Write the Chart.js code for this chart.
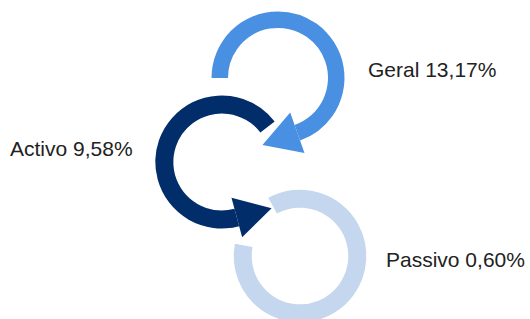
<!DOCTYPE html>
<html><head><meta charset="utf-8">
<script src="https://cdn.jsdelivr.net/npm/chart.js@4"></script>
<style>
html,body{margin:0;padding:0;width:530px;height:319px;overflow:hidden;background:#fff;}
#wrap{position:relative;width:530px;height:319px;overflow:hidden;}
#wrap canvas{position:absolute;}
.lbl{position:absolute;font-family:"Liberation Sans",Arial,Helvetica,sans-serif;font-size:21px;line-height:21px;color:#222;white-space:nowrap;}
</style></head><body><div id="wrap"></div>
<script>
// ---- data ----
const categories = ['Geral', 'Activo', 'Passivo'];
const values = [13.17, 9.58, 0.60];
const colors = ['#4A90E2', '#022D6B', '#C4D7EE'];

// ---- layout of each ring (styling only) ----
const ringCenters = [[278, 78], [221.5, 161.5], [300.3, 256.3]];
const outerRadii = [66.5, 66.5, 66.3];
const innerRadii = [50, 48.5, 48.3];
const rotations = [270, 164.9, 331.4];
const sweeps = [250.6, 247.7, 309.2];
const arrowAt = ['end', 'start', null];
const arrowOverhang = [13.25, 11.5, 0];
const arrowLength = [37, 36, 0];
const labelPos = [[368, 59], [10, 138], [386, 249]];

const arrowPlugin = {
  id: 'arrowHead',
  afterDatasetsDraw(chart, args, opts) {
    if (!opts.at) return;
    const arc = chart.getDatasetMeta(0).data[0];
    const p = arc.getProps(['x', 'y', 'startAngle', 'endAngle', 'innerRadius', 'outerRadius'], true);
    const atEnd = opts.at === 'end';
    const a = atEnd ? p.endAngle : p.startAngle;
    const dir = atEnd ? 1 : -1;
    const mid = (p.innerRadius + p.outerRadius) / 2;
    const half = (p.outerRadius - p.innerRadius) / 2 + opts.overhang;
    const ux = Math.cos(a), uy = Math.sin(a);
    const tx = -Math.sin(a) * dir, ty = Math.cos(a) * dir;
    const bx = p.x + ux * mid, by = p.y + uy * mid;
    const ctx = chart.ctx;
    ctx.save();
    ctx.fillStyle = opts.color;
    ctx.beginPath();
    ctx.moveTo(bx + ux * half, by + uy * half);
    ctx.lineTo(bx - ux * half, by - uy * half);
    ctx.lineTo(bx + tx * opts.length, by + ty * opts.length);
    ctx.closePath();
    ctx.fill();
    ctx.restore();
  }
};

const wrap = document.getElementById('wrap');
const S = 320;
categories.forEach((name, i) => {
  const cv = document.createElement('canvas');
  cv.width = S; cv.height = S;
  cv.style.width = S + 'px'; cv.style.height = S + 'px';
  cv.style.left = (ringCenters[i][0] - S / 2) + 'px';
  cv.style.top = (ringCenters[i][1] - S / 2) + 'px';
  cv.style.zIndex = String(3 - i);
  wrap.appendChild(cv);
  const chart = new Chart(cv, {
    type: 'doughnut',
    data: {
      labels: [name],
      datasets: [{
        data: [values[i]],
        backgroundColor: [colors[i]],
        borderWidth: 0
      }]
    },
    options: {
      responsive: false,
      animation: false,
      events: [],
      radius: outerRadii[i],
      cutout: (innerRadii[i] / outerRadii[i] * 100) + '%',
      rotation: rotations[i],
      circumference: sweeps[i],
      layout: { padding: 0 },
      plugins: {
        legend: { display: false },
        tooltip: { enabled: false },
        arrowHead: { at: arrowAt[i], overhang: arrowOverhang[i], length: arrowLength[i], color: colors[i] }
      }
    },
    plugins: [arrowPlugin]
  });
  // keep ring center at intended spot (doughnut shifts center for partial arcs)
  const arc = chart.getDatasetMeta(0).data[0];
  cv.style.left = (ringCenters[i][0] - arc.x) + 'px';
  cv.style.top = (ringCenters[i][1] - arc.y) + 'px';

  const lbl = document.createElement('div');
  lbl.className = 'lbl';
  lbl.style.left = labelPos[i][0] + 'px';
  lbl.style.top = labelPos[i][1] + 'px';
  lbl.textContent = name + ' ' + values[i].toFixed(2).replace('.', ',') + '%';
  wrap.appendChild(lbl);
});
</script>
</body></html>
